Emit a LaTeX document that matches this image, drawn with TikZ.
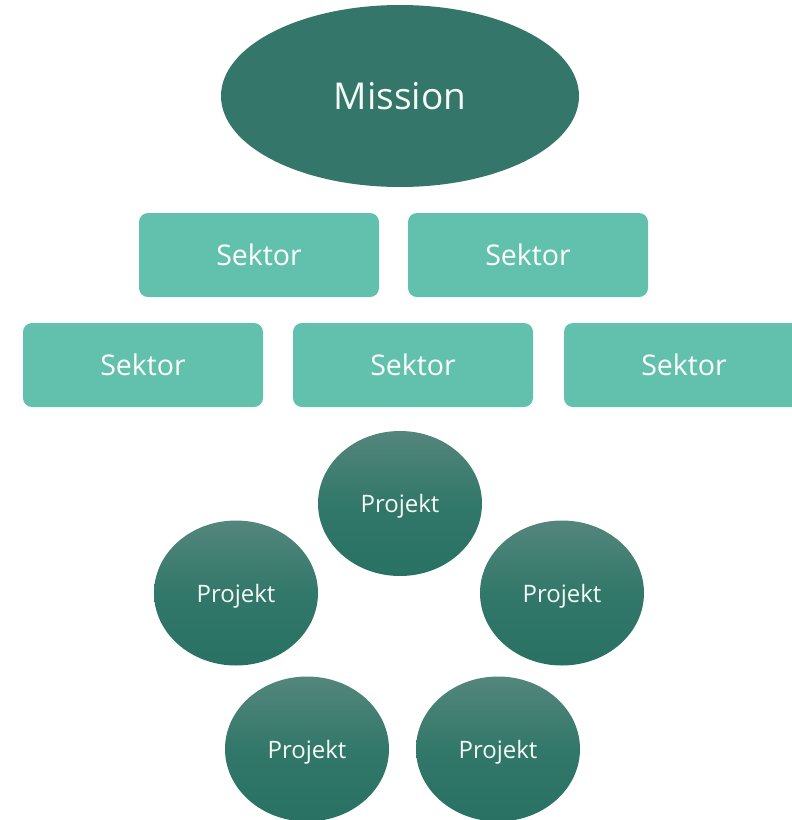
\documentclass[tikz,border=0pt]{standalone}
\usepackage{fontspec}
\setmainfont{Open Sans}
\usetikzlibrary{shapes.geometric}
\definecolor{mission}{RGB}{53,118,107}
\definecolor{sektor}{RGB}{98,193,173}
\definecolor{projtop}{RGB}{84,134,124}
\definecolor{projmid}{RGB}{50,120,106}
\definecolor{projbot}{RGB}{40,113,99}
\definecolor{txt}{RGB}{245,250,245}
\tikzset{
  missionnode/.style={ellipse, fill=mission, minimum width=358pt, minimum height=182pt, inner sep=0pt, text=txt, font=\fontsize{37}{42}\selectfont},
  sektorbox/.style={rectangle, rounded corners=9pt, fill=sektor, minimum width=240pt, minimum height=84pt, inner sep=0pt, text=white, font=\fontsize{28.5}{32}\selectfont},
  projektnode/.style={ellipse, top color=projtop, bottom color=projbot, middle color=projmid, minimum width=164pt, minimum height=145pt, inner sep=0pt, text depth=0pt, text=txt, font=\fontsize{24}{28}\selectfont}
}
\begin{document}
\begin{tikzpicture}[x=1pt,y=-1pt]
\useasboundingbox (0,0) rectangle (792,820);
\node[missionnode] (m) at (400,96) {Mission};
\node[sektorbox] (s1) at (259,255) {Sektor};
\node[sektorbox] (s2) at (528,255) {Sektor};
\node[sektorbox] (s3) at (143,365) {Sektor};
\node[sektorbox] (s4) at (413,365) {Sektor};
\node[sektorbox] (s5) at (684,365) {Sektor};
\node[projektnode] (p1) at (400,503.5) {Projekt};
\node[projektnode] (p2) at (236,593) {Projekt};
\node[projektnode] (p3) at (562,593) {Projekt};
\node[projektnode] (p4) at (307,749) {Projekt};
\node[projektnode] (p5) at (498,749) {Projekt};
\end{tikzpicture}
\end{document}
